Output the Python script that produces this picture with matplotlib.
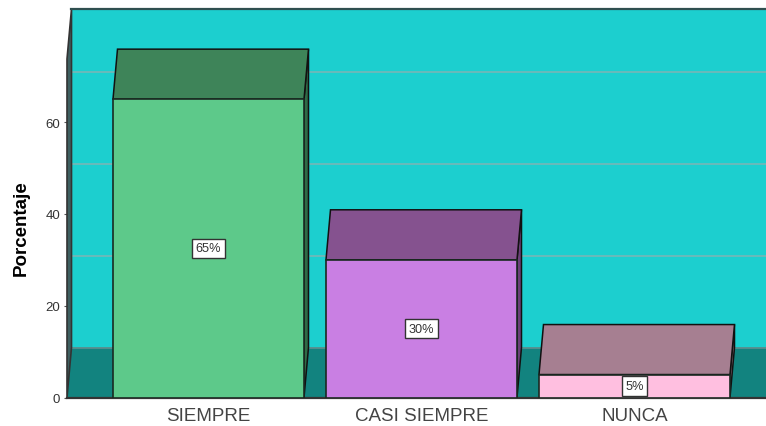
import matplotlib
matplotlib.use("Agg")
import matplotlib.pyplot as plt
from matplotlib.patches import Polygon

categories = ["SIEMPRE", "CASI SIEMPRE", "NUNCA"]
values = [65, 30, 5]
labels = ["65%", "30%", "5%"]
yticks = [0, 20, 40, 60]

front = ["#5DC98A", "#C97FE3", "#FFBFE0"]
top = ["#3E8459", "#85528F", "#A67F91"]
side = ["#2F6B47", "#6A4078", "#8A6A78"]
WALL = "#1CCFCF"
FLOOR = "#12837F"
W, H = 766, 427
plt.rcParams["font.family"] = ["Liberation Sans", "DejaVu Sans"]

fig = plt.figure(figsize=(W / 100, H / 100), dpi=100)
L, R, B, T = 67, 766, 398.5, 10
ax = fig.add_axes([L / W, 1 - B / H, (R - L) / W, (B - T) / H])
px_per_unit = 4.59
spacing = 213
ax.set_xlim((L - 208.5) / spacing, (R - 208.5) / spacing)
ax.set_ylim(0, (B - T) / px_per_unit)
dx = 4.5 / spacing
dy = 50 / px_per_unit
x0, x1 = ax.get_xlim()
ytop = ax.get_ylim()[1]
bw = 191 / spacing

ax.set_facecolor("white")
for s in ax.spines.values():
    s.set_visible(False)
ax.add_patch(Polygon([(x0 + dx, dy), (x1 + dx, dy), (x1 + dx, ytop), (x0 + dx, ytop)], fc=WALL, ec="none", zorder=1))
ax.add_patch(Polygon([(x0, 0), (x1, 0), (x1 + dx, dy), (x0 + dx, dy)], fc=FLOOR, ec="none", zorder=1))
ax.add_patch(Polygon([(x0, 0), (x0 + dx, dy), (x0 + dx, ytop), (x0, ytop - dy)], fc="#3E5F60", ec="#333333", lw=1.2, zorder=2, clip_on=False))
for t in yticks[1:] + [80]:
    ax.plot([x0 + dx, x1 + dx], [t + dy, t + dy], color="#7FB4B4", lw=1.1, zorder=1.5)
ax.plot([x0 + dx, x1 + dx], [dy, dy], color="#5F8F8F", lw=1.2, zorder=1.6)
ax.plot([x0 + dx, x1 + dx], [ytop, ytop], color="#2F4F50", lw=1.6, zorder=3, clip_on=False)
ax.plot([x0, x1], [0, 0], color="#333333", lw=1.6, zorder=2.5, clip_on=False)

for i, v in enumerate(values):
    a, b = i - bw / 2, i + bw / 2
    ax.add_patch(Polygon([(b, 0), (b + dx, dy), (b + dx, v + dy), (b, v)], fc=side[i], ec="#111111", lw=1.1, zorder=4, joinstyle="miter"))
    ax.add_patch(Polygon([(a, v), (b, v), (b + dx, v + dy), (a + dx, v + dy)], fc=top[i], ec="#111111", lw=1.1, zorder=4, joinstyle="miter"))
    ax.add_patch(Polygon([(a, 0), (b, 0), (b, v), (a, v)], fc=front[i], ec="#1A2A22", lw=1.2, zorder=5, joinstyle="miter"))
    ax.text(i, v / 2, labels[i], ha="center", va="center", fontsize=9.2, color="#333333", zorder=6,
            bbox=dict(boxstyle="square,pad=0.28", fc="white", ec="#333333", lw=1.0))

ax.set_xticks(range(3), categories)
ax.set_yticks(yticks)
ax.tick_params(axis="x", length=0, pad=7, labelsize=13.5, labelcolor="#444444")
ax.tick_params(axis="y", length=2, width=0.8, pad=3, labelsize=9.5, labelcolor="#333333", color="#555555")
ax.set_ylabel("Porcentaje", fontsize=13.5, fontweight="bold", color="black")
ax.yaxis.set_label_coords((30 - L) / (R - L), (B - 228) / (B - T))
fig.savefig("out.png", dpi=100)
